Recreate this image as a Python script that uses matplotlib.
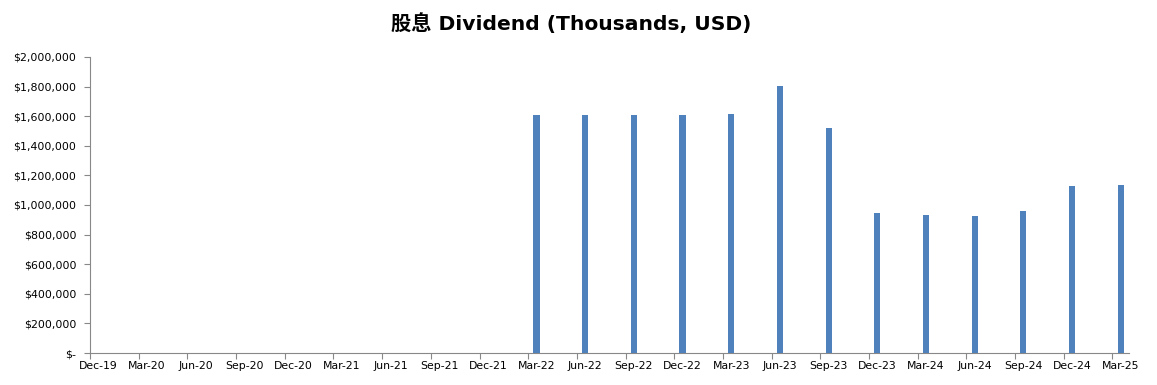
import matplotlib
matplotlib.use("Agg")
import matplotlib.pyplot as plt
import numpy as np

categories = ["Dec-19", "Mar-20", "Jun-20", "Sep-20", "Dec-20", "Mar-21", "Jun-21", "Sep-21",
              "Dec-21", "Mar-22", "Jun-22", "Sep-22", "Dec-22", "Mar-23", "Jun-23", "Sep-23",
              "Dec-23", "Mar-24", "Jun-24", "Sep-24", "Dec-24", "Mar-25"]
dividend = [0, 0, 0, 0, 0, 0, 0, 0, 0,
            1608000, 1608000, 1608000, 1608000, 1615000, 1804000, 1520000,
            946000, 932000, 926000, 959000, 1128000, 1135000]
yticks = list(range(0, 2000001, 200000))

plt.rcParams['font.family'] = ['DejaVu Sans', 'Noto Sans CJK SC']

fig = plt.figure(figsize=(11.57, 3.85), dpi=100)
ax = fig.add_axes([0.0778, 0.0831, 0.898, 0.7689])

x = np.arange(len(categories))
ax.bar(x, dividend, width=0.125, color='#4F81BD', zorder=3)

off = 0.17
ax.set_xlim(-off, 21.17)
ax.set_ylim(0, 2000000)
ax.set_xticks(x - off)
ax.set_xticklabels([])
ax.set_xticks(x, minor=True)
ax.set_xticklabels(categories, minor=True, fontsize=7.8)
ax.tick_params(axis='x', which='major', length=4, color='#888888', direction='out')
ax.tick_params(axis='x', which='minor', length=0, pad=6)

ax.set_yticks(yticks)
ax.set_yticklabels(["$-" if v == 0 else "${:,}".format(v) for v in yticks], fontsize=7.9)
ax.tick_params(axis='y', length=4, color='#888888', pad=6)

for s in ['top', 'right']:
    ax.spines[s].set_visible(False)
for s in ['left', 'bottom']:
    ax.spines[s].set_color('#888888')

fig.text(0.494, 0.94, "股息 Dividend (Thousands, USD)", ha='center', va='center',
         fontsize=14.6, fontweight='bold')

fig.savefig("out.png", dpi=100)
